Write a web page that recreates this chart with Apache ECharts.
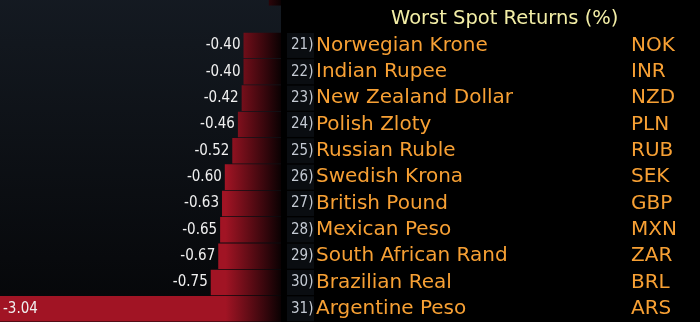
<!DOCTYPE html>
<html>
<head>
<meta charset="utf-8">
<style>
  html, body { margin: 0; padding: 0; background: #000; }
  #chart { width: 700px; height: 322px; }
</style>
<script src="https://cdn.jsdelivr.net/npm/echarts@6/dist/echarts.min.js"></script>
</head>
<body>
<div id="chart"></div>
<script>
// ---- data ----
const rowNumbers = ['19', '20', '21', '22', '23', '24', '25', '26', '27', '28', '29', '30', '31'];
const currencyNames = ['', '', 'Norwegian Krone', 'Indian Rupee', 'New Zealand Dollar', 'Polish Zloty',
  'Russian Ruble', 'Swedish Krona', 'British Pound', 'Mexican Peso', 'South African Rand',
  'Brazilian Real', 'Argentine Peso'];
const currencyCodes = ['', '', 'NOK', 'INR', 'NZD', 'PLN', 'RUB', 'SEK', 'GBP', 'MXN', 'ZAR', 'BRL', 'ARS'];
const spotReturns = [-0.13, null, -0.40, -0.40, -0.42, -0.46, -0.52, -0.60, -0.63, -0.65, -0.67, -0.75, -3.04];
const titleText = 'Worst Spot Returns (%)';

// ---- chart ----
const chart = echarts.init(document.getElementById('chart'), null, { renderer: 'canvas' });

const barData = spotReturns.map((v, i) => {
  const item = { value: v };
  if (i === 0) item.label = { show: false };
  if (v !== null && v <= -3) item.label = { position: 'insideLeft', distance: 3 };
  return item;
});

const option = {
  backgroundColor: '#000000',
  animation: false,
  grid: {
    left: 0, top: -20.4, width: 281, height: 342.4,
    outerBoundsMode: 'none',
    containLabel: false,
    show: true, borderWidth: 0,
    backgroundColor: {
      type: 'linear', x: 0, y: 0, x2: 0, y2: 1,
      colorStops: [{ offset: 0, color: '#151b23' }, { offset: 1, color: '#050608' }]
    }
  },
  xAxis: {
    type: 'value', min: -3, max: 0,
    show: false
  },
  yAxis: [
    {
      type: 'category', inverse: true, data: rowNumbers, show: false
    },
    {
      type: 'category', inverse: true, data: rowNumbers, position: 'right',
      axisLine: { show: false }, axisTick: { show: false }, splitLine: { show: false },
      axisLabel: {
        margin: 6,
        interval: 0,
        hideOverlap: false,
        align: 'left',
        formatter: function (val, idx) {
          if (idx === 1) return '{t|' + titleText + '}';
          if (!currencyNames[idx]) return '';
          return '{n|' + val + ')}{name|' + currencyNames[idx] + '}{code|' + currencyCodes[idx] + '}';
        },
        rich: {
          t: { color: '#f3eea6', fontFamily: 'DejaVu Sans', fontSize: 19.5, padding: [0, 0, 0, 104] },
          n: { color: '#c4cad3', fontFamily: 'DejaVu Sans Condensed', fontSize: 15,
               width: 23, height: 25, lineHeight: 25, padding: [0, 0, 0, 4], backgroundColor: '#0a0d11' },
          name: { color: '#f7a034', fontFamily: 'DejaVu Sans', fontSize: 20, width: 315, padding: [0, 0, 0, 2] },
          code: { color: '#f7a034', fontFamily: 'DejaVu Sans', fontSize: 20 }
        }
      }
    }
  ],
  series: [{
    type: 'bar',
    yAxisIndex: 0,
    data: barData,
    barCategoryGap: '3%',
    itemStyle: {
      color: {
        type: 'linear', x: 0, y: 0, x2: 282, y2: 0, global: true,
        colorStops: [
          { offset: 0, color: '#a11424' },
          { offset: 0.8, color: '#a11424' },
          { offset: 1, color: '#080102' }
        ]
      }
    },
    label: {
      show: true, position: 'left', distance: 3,
      color: '#f0f0f0', fontFamily: 'DejaVu Sans Condensed', fontSize: 15,
      formatter: p => p.value.toFixed(2)
    }
  }]
};

chart.setOption(option);
</script>
</body>
</html>
